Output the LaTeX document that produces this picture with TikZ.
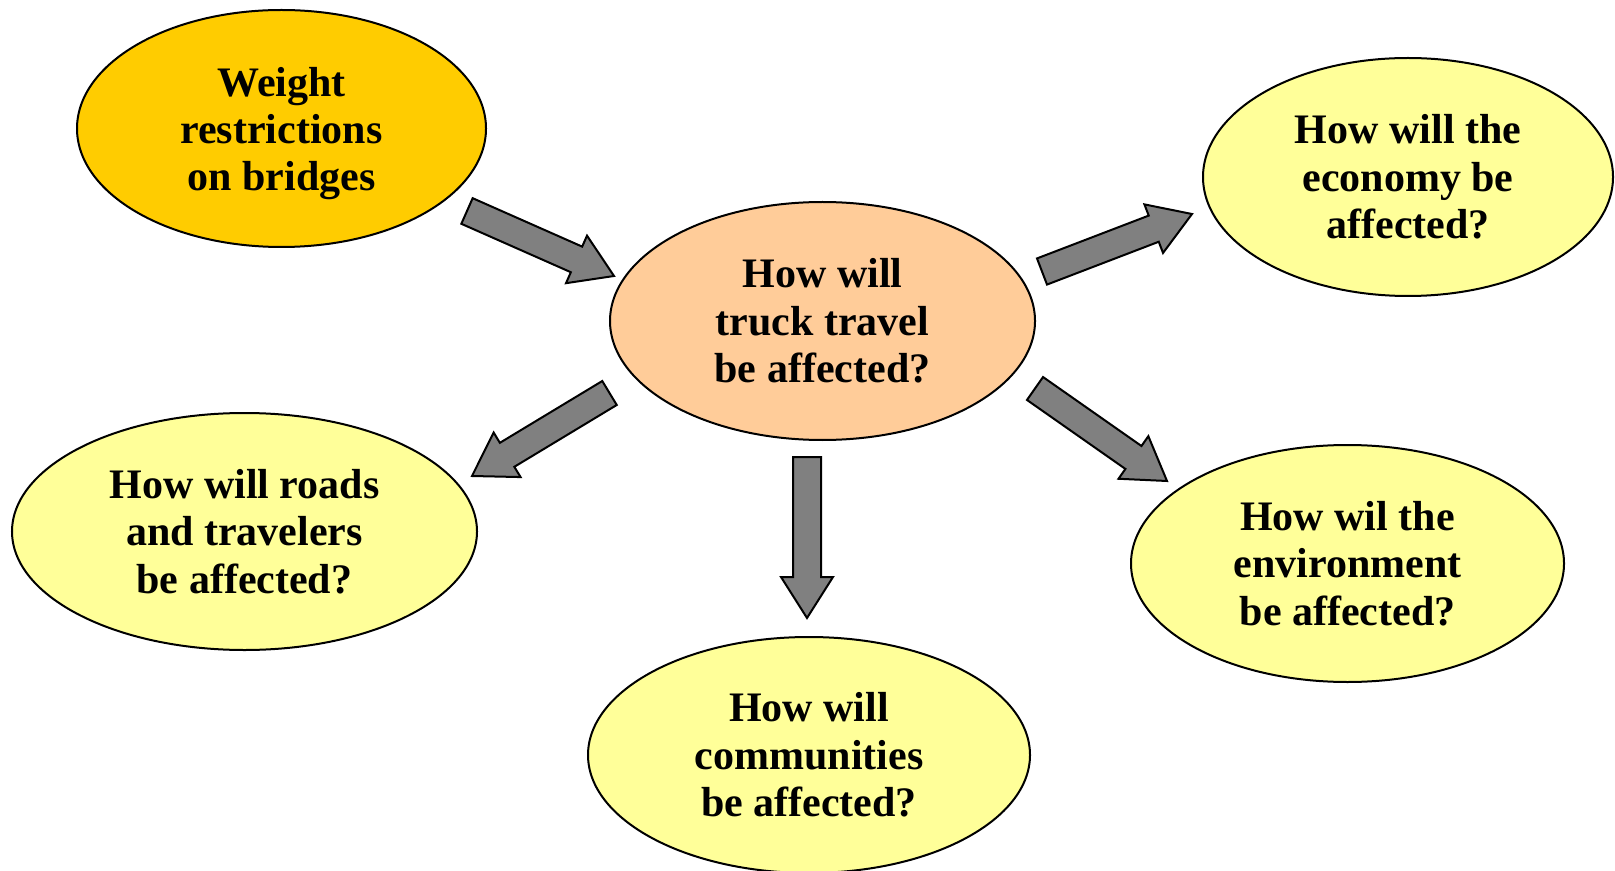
\documentclass[tikz,border=0pt]{standalone}
\usepackage{fontspec}
\setmainfont{Liberation Serif}
\usetikzlibrary{shapes.geometric,calc}
\definecolor{gold}{HTML}{FFCC00}
\definecolor{peach}{HTML}{FFCC99}
\definecolor{paleyellow}{HTML}{FFFF99}
\definecolor{arrowgray}{HTML}{808080}
\tikzset{
  bubbletext/.style={inner sep=0pt, align=center, font=\fontsize{21}{23.7}\selectfont\bfseries},
  bubble/.style={ellipse, draw=black, line width=1pt, bubbletext},
  blockarrow/.style={draw=black, fill=arrowgray, line width=1pt, line join=miter}
}
% block arrow from tail point #1 to tip point #2
\newcommand{\fatarrow}[2]{%
  \coordinate (#1b) at ($(#2)!20.5pt!(#1)$);
  \draw[blockarrow] ($(#1)!7pt!90:(#2)$) -- ($(#1b)!7pt!90:(#2)$) -- ($(#1b)!13pt!90:(#2)$)
    -- (#2) -- ($(#1b)!13pt!-90:(#2)$) -- ($(#1b)!7pt!-90:(#2)$) -- ($(#1)!7pt!-90:(#2)$) -- cycle;}

\begin{document}
\begin{tikzpicture}[x=0.5pt,y=-0.5pt]
\useasboundingbox (0,0) rectangle (1615,871);
% bubbles
\node[bubble, fill=gold, minimum width=204.5pt, minimum height=118.5pt] (weight) at (281.5,128.5) {};
\node[bubbletext, yshift=-2.5pt] (weighttext) at (weight.center) {Weight\\restrictions\\on bridges};
\node[bubble, fill=peach, minimum width=212.5pt, minimum height=119pt] (truck) at (822.5,321) {How will\\truck travel\\be affected?};
\node[bubble, fill=paleyellow, minimum width=205pt, minimum height=119pt] (economy) at (1408,177) {How will the\\economy be\\affected?};
\node[bubble, fill=paleyellow, minimum width=232.5pt, minimum height=118.5pt] (roads) at (244.5,531.5) {How will roads\\and travelers\\be affected?};
\node[bubble, fill=paleyellow, minimum width=221pt, minimum height=118pt] (communities) at (809,755) {How will\\communities\\be affected?};
\node[bubble, fill=paleyellow, minimum width=216.5pt, minimum height=118.5pt] (environment) at (1347.5,563.5) {How wil the\\environment\\be affected?};
% arrow ends
\coordinate (ws) at (467,211);    \coordinate (we) at (614,276);
\coordinate (es) at (1042,271.5); \coordinate (ee) at (1192,214);
\coordinate (rs) at (609.5,393);  \coordinate (re) at (472,476);
\coordinate (cs) at (807,457);    \coordinate (ce) at (807,618);
\coordinate (vs) at (1035,388.5); \coordinate (ve) at (1167,481);
\fatarrow{ws}{we}
\fatarrow{es}{ee}
\fatarrow{rs}{re}
\fatarrow{cs}{ce}
\fatarrow{vs}{ve}
\end{tikzpicture}
\end{document}
